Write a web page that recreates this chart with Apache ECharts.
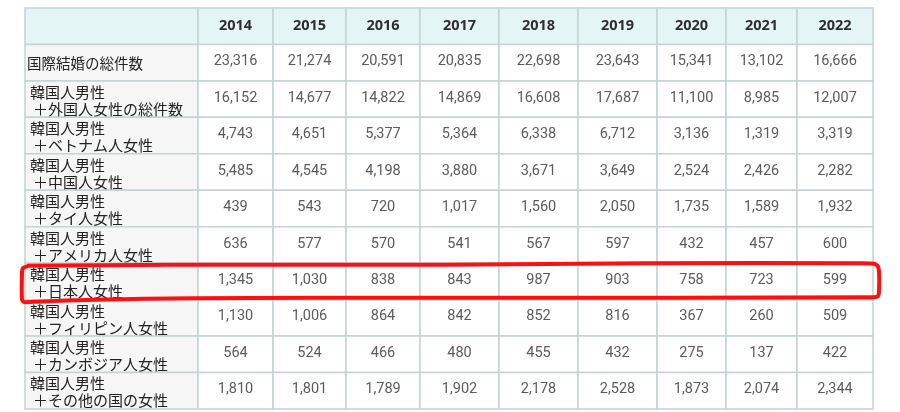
<!DOCTYPE html>
<html>
<head>
<meta charset="utf-8">
<script src="https://cdn.jsdelivr.net/npm/echarts@6/dist/echarts.min.js"></script>
<style>
html,body{margin:0;padding:0;background:#ffffff;}
#chart{width:900px;height:412px;}
</style>
</head>
<body>
<div id="chart"></div>
<script>
const years = ['2014','2015','2016','2017','2018','2019','2020','2021','2022'];
const rowLabels = [
  '国際結婚の総件数',
  '韓国人男性\n＋外国人女性の総件数',
  '韓国人男性\n＋ベトナム人女性',
  '韓国人男性\n＋中国人女性',
  '韓国人男性\n＋タイ人女性',
  '韓国人男性\n＋アメリカ人女性',
  '韓国人男性\n＋日本人女性',
  '韓国人男性\n＋フィリピン人女性',
  '韓国人男性\n＋カンボジア人女性',
  '韓国人男性\n＋その他の国の女性'
];
const totalAll      = [23316, 21274, 20591, 20835, 22698, 23643, 15341, 13102, 16666];
const totalForeign  = [16152, 14677, 14822, 14869, 16608, 17687, 11100, 8985, 12007];
const vietnam       = [4743, 4651, 5377, 5364, 6338, 6712, 3136, 1319, 3319];
const china         = [5485, 4545, 4198, 3880, 3671, 3649, 2524, 2426, 2282];
const thailand      = [439, 543, 720, 1017, 1560, 2050, 1735, 1589, 1932];
const america       = [636, 577, 570, 541, 567, 597, 432, 457, 600];
const japan         = [1345, 1030, 838, 843, 987, 903, 758, 723, 599];
const philippines   = [1130, 1006, 864, 842, 852, 816, 367, 260, 509];
const cambodia      = [564, 524, 466, 480, 455, 432, 275, 137, 422];
const others        = [1810, 1801, 1789, 1902, 2178, 2528, 1873, 2074, 2344];
const rowValues = [totalAll, totalForeign, vietnam, china, thailand, america, japan, philippines, cambodia, others];
const highlightRow = 7; // 韓国人男性＋日本人女性 (row index incl. header)

// layout (table units along x = pixel widths of columns)
const colEdges = [0, 173, 248, 321, 395, 474, 553, 632, 701, 772, 848];
const nRows = rowLabels.length + 1;

// build cells: [col, row, text, kind]
const cells = [];
cells.push([0, 0, '', 'header']);
years.forEach((y, i) => cells.push([i + 1, 0, y, 'header']));
rowLabels.forEach((lab, r) => {
  cells.push([0, r + 1, lab, 'label']);
  rowValues[r].forEach((v, i) => cells.push([i + 1, r + 1, v.toLocaleString('en-US'), 'num']));
});

const chart = echarts.init(document.getElementById('chart'), null, {renderer: 'canvas'});
const BORDER = '#c4d4d4';
const CJK = "'Noto Sans CJK JP', sans-serif";
const NUMF = "'Roboto', sans-serif";

function renderItem(params, api) {
  const cell = cells[params.dataIndex];
  const c = api.value(0), r = api.value(1);
  const p0 = api.coord([colEdges[c], r]);
  const p1 = api.coord([colEdges[c + 1], r + 1]);
  const w = p1[0] - p0[0], h = p1[1] - p0[1];
  const kind = cell[3];
  let fill = '#ffffff';
  if (kind === 'header') fill = '#e4f5f6';
  else if (kind === 'label') fill = '#f6f6f6';
  const children = [{
    type: 'rect',
    shape: {x: p0[0], y: p0[1], width: w, height: h},
    style: {fill: fill, stroke: BORDER, lineWidth: 1.5}
  }];
  const cy = p0[1] + h / 2;
  if (kind === 'header') {
    children.push({type: 'text', style: {
      text: cell[2], x: p0[0] + w / 2, y: cy,
      align: 'center', verticalAlign: 'middle',
      fontSize: 14.5, fontWeight: 'bold', fontFamily: "'Open Sans', sans-serif", fill: '#2e2e2e'
    }});
  } else if (kind === 'num') {
    children.push({type: 'text', style: {
      text: cell[2], x: p0[0] + w / 2, y: cy - 1,
      align: 'center', verticalAlign: 'middle',
      fontSize: 14.5, fontFamily: NUMF, fill: '#5c5c5c'
    }});
  } else {
    const lines = String(cell[2]).split('\n');
    if (lines.length === 1) {
      children.push({type: 'text', style: {
        text: lines[0], x: p0[0] + 2, y: cy + 1,
        align: 'left', verticalAlign: 'middle',
        fontSize: 14.5, fontFamily: CJK, fill: '#222222'
      }});
    } else {
      children.push({type: 'text', style: {
        text: lines[0], x: p0[0] + 5, y: cy - 7,
        align: 'left', verticalAlign: 'middle',
        fontSize: 15, fontFamily: CJK, fill: '#222222'
      }});
      children.push({type: 'text', style: {
        text: lines[1], x: p0[0] + 8, y: cy + 10,
        align: 'left', verticalAlign: 'middle',
        fontSize: 15, fontFamily: CJK, fill: '#222222'
      }});
    }
  }
  return {type: 'group', children: children};
}

chart.setOption({
  animation: false,
  backgroundColor: '#ffffff',
  grid: {left: 25, top: 8, width: 848, height: 401, containLabel: false},
  xAxis: {type: 'value', min: 0, max: colEdges[colEdges.length - 1], show: false},
  yAxis: {type: 'value', min: 0, max: nRows, inverse: true, show: false},
  series: [{
    type: 'custom',
    renderItem: renderItem,
    data: cells.map(c => [c[0], c[1]]),
    clip: false,
    silent: true
  }]
});

// red hand-drawn annotation around the highlighted row
const pTL = chart.convertToPixel({gridIndex: 0}, [0, highlightRow]);
const pBR = chart.convertToPixel({gridIndex: 0}, [colEdges[colEdges.length - 1], highlightRow + 1]);
const L = pTL[0], T = pTL[1], R = pBR[0], B = pBR[1];
const pts = [
  [L + 4, T + 2.5], [L + 150, T + 1.5], [L + 420, T + 1.5], [L + 620, T + 0], [R - 10, T + 0],
  [R + 1, T + 0.5], [R + 4.5, T + 2.5], [R + 6, T + 8], [R + 6, B - 8], [R + 5, B - 3.5],
  [R + 1, B - 2.5], [R - 200, B - 2], [L + 400, B - 2], [L + 170, B - 1.5], [L + 70, B + 0],
  [L + 12, B + 2], [L - 1, B + 2.5], [L - 3, B], [L - 3, T + 10], [L - 2, T + 5], [L + 4, T + 2.5]
];
chart.setOption({
  graphic: [{
    type: 'polyline',
    shape: {points: pts, smooth: 0.15},
    style: {stroke: '#ff1010', lineWidth: 4, fill: null, lineJoin: 'round', lineCap: 'round'},
    z: 100, silent: true
  }]
});
</script>
</body>
</html>
